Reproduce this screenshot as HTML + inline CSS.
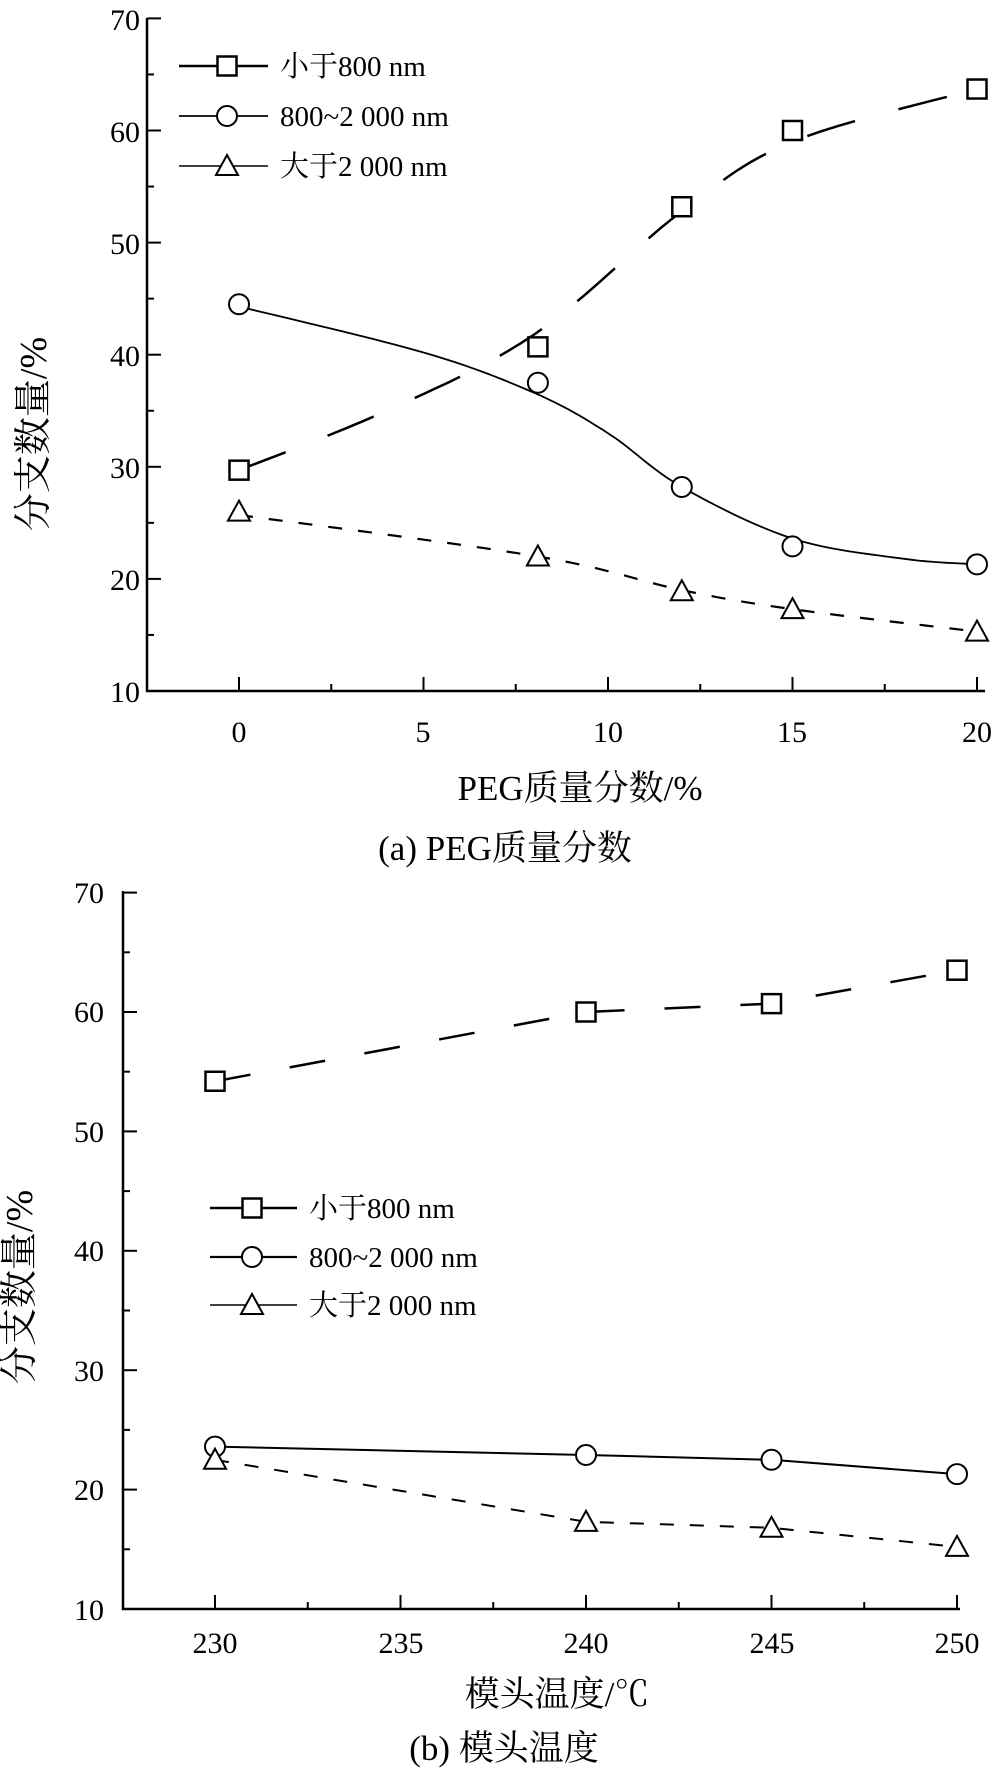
<!DOCTYPE html>
<html><head><meta charset="utf-8"><style>
body{margin:0;background:#fff;}
svg{display:block}
text{font-family:"Liberation Serif","Noto Serif CJK SC","Noto Sans CJK SC",serif;fill:#000;}
</style></head><body>
<svg id="s" width="1000" height="1773" viewBox="0 0 1000 1773" xmlns="http://www.w3.org/2000/svg">
<g font-size="30" text-anchor="end">
<text x="140" y="30">70</text><text x="140" y="142">60</text><text x="140" y="254">50</text><text x="140" y="366">40</text><text x="140" y="478">30</text><text x="140" y="590">20</text><text x="140" y="702">10</text>
</g>
<g font-size="30" text-anchor="middle">
<text x="239" y="742">0</text><text x="423" y="742">5</text><text x="608" y="742">10</text><text x="792" y="742">15</text><text x="977" y="742">20</text>
</g>
<g font-size="35" text-anchor="middle">
<text x="580" y="800">PEG质量分数/%</text>
<text x="505" y="860">(a) PEG质量分数</text>
</g>
<text font-size="38" text-anchor="middle" transform="translate(46,434) rotate(-90)">分支数量/%</text>
<g font-size="29">
<text x="280" y="76">小于800 nm</text><text x="280" y="126">800~2 000 nm</text><text x="280" y="176">大于2 000 nm</text>
</g>
<g font-size="30" text-anchor="end">
<text x="104" y="903">70</text><text x="104" y="1022">60</text><text x="104" y="1142">50</text><text x="104" y="1261">40</text><text x="104" y="1381">30</text><text x="104" y="1500">20</text><text x="104" y="1620">10</text>
</g>
<g font-size="30" text-anchor="middle">
<text x="215" y="1653">230</text><text x="401" y="1653">235</text><text x="586" y="1653">240</text><text x="772" y="1653">245</text><text x="957" y="1653">250</text>
</g>
<g font-size="35" text-anchor="middle">
<text x="557" y="1706">模头温度/℃</text>
<text x="504" y="1760">(b) 模头温度</text>
</g>
<text font-size="38" text-anchor="middle" transform="translate(32,1287) rotate(-90)">分支数量/%</text>
<g font-size="29">
<text x="309" y="1218">小于800 nm</text><text x="309" y="1267">800~2 000 nm</text><text x="309" y="1315">大于2 000 nm</text>
</g>
<g id="g" fill="none" stroke="#000" stroke-width="2"></g>
</svg>
<script>
var g=document.getElementById('g'),NS='http://www.w3.org/2000/svg';
function el(t,a){var e=document.createElementNS(NS,t);for(var k in a)e.setAttribute(k,a[k]);g.appendChild(e);return e;}
function line(x1,y1,x2,y2,w){el('line',{x1:x1,y1:y1,x2:x2,y2:y2,'stroke-width':w||2.5});}
function path(pts,dash,w){var d='M'+pts.map(p=>p[0].toFixed(1)+','+p[1].toFixed(1)).join(' L');var a={d:d,'stroke-width':w||2};if(dash)a['stroke-dasharray']=dash;el('path',a);}
function sq(x,y){el('rect',{x:x-9.5,y:y-9.5,width:19,height:19,fill:'#fff','stroke-width':2.5});}
function ci(x,y){el('circle',{cx:x,cy:y,r:10,fill:'#fff','stroke-width':2});}
function tr(x,y){el('path',{d:'M'+x+','+(y-11)+' L'+(x+11)+','+(y+9)+' L'+(x-11)+','+(y+9)+'Z',fill:'#fff','stroke-width':2});}
function spline(P,n){var out=[];for(var i=0;i<P.length-1;i++){var p0=P[Math.max(i-1,0)],p1=P[i],p2=P[i+1],p3=P[Math.min(i+2,P.length-1)];for(var t=0;t<1;t+=1/n){var t2=t*t,t3=t2*t;out.push([0.5*((2*p1[0])+(-p0[0]+p2[0])*t+(2*p0[0]-5*p1[0]+4*p2[0]-p3[0])*t2+(-p0[0]+3*p1[0]-3*p2[0]+p3[0])*t3),0.5*((2*p1[1])+(-p0[1]+p2[1])*t+(2*p0[1]-5*p1[1]+4*p2[1]-p3[1])*t2+(-p0[1]+3*p1[1]-3*p2[1]+p3[1])*t3)]);}}out.push(P[P.length-1]);return out;}
var AX=v=>239+36.9*v, AY=v=>691-11.21*(v-10);
line(147,18,147,692);line(146,691,985,691);
for(var v=10;v<=70;v+=5){var L=v%10?7:14;line(147,AY(v),147+L,AY(v),2);}
for(var v=0;v<=20;v+=2.5){var L=v%5?7:14;line(AX(v),691,AX(v),691-L,2);}
path(spline([[0,29.7],[4,35],[8,41.8],[12,52.8],[15,59],[20,63.7]].map(p=>[AX(p[0]),AY(p[1])]),12),'50,45',2.5);
path(spline([[0,44.3],[5,40.2],[8,36.6],[10,33],[12,28.2],[15,23.6],[18,21.8],[20,21.3]].map(p=>[AX(p[0]),AY(p[1])]),12),null,1.8);
path(spline([[0,25.7],[8.1,22],[12,19],[15,17.3],[20,15.3]].map(p=>[AX(p[0]),AY(p[1])]),12),'14,16',2.2);
[[0,29.7],[8.1,40.7],[12,53.2],[15,60],[20,63.7]].forEach(p=>sq(AX(p[0]),AY(p[1])));
[[0,44.5],[8.1,37.5],[12,28.2],[15,22.9],[20,21.3]].forEach(p=>ci(AX(p[0]),AY(p[1])));
[[0,26],[8.1,22],[12,18.9],[15,17.3],[20,15.3]].forEach(p=>tr(AX(p[0]),AY(p[1])));
line(179,66,268,66,2.5);sq(227,66);line(179,116,268,116,1.8);ci(227,116);line(179,166,268,166,1.5);tr(227,166);
var BX=t=>215+37.1*(t-230), BY=v=>1609-11.94*(v-10);
line(123,891,123,1610);line(122,1609,960,1609);
for(var v=10;v<=70;v+=5){var L=v%10?7:14;line(123,BY(v),123+L,BY(v),2);}
for(var t=230;t<=250;t+=2.5){var L=(t%5)?7:14;line(BX(t),1609,BX(t),1609-L,2);}
var sqb=[[230,54.2],[240,60],[245,60.7],[250,63.5]],cib=[[230,23.6],[240,22.9],[245,22.5],[250,21.3]],trb=[[230,22.5],[240,17.3],[245,16.8],[250,15.2]];
path(sqb.map(p=>[BX(p[0]),BY(p[1])]),'36,40',2.5);
path(cib.map(p=>[BX(p[0]),BY(p[1])]),null,2);
path(trb.map(p=>[BX(p[0]),BY(p[1])]),'14,16',2);
sqb.forEach(p=>sq(BX(p[0]),BY(p[1])));cib.forEach(p=>ci(BX(p[0]),BY(p[1])));trb.forEach(p=>tr(BX(p[0]),BY(p[1])));
line(210,1208,297,1208,2.5);sq(252,1208);line(210,1257,297,1257,2.2);ci(252,1257);line(210,1305,297,1305,1.6);tr(252,1305);
</script>
</body></html>
